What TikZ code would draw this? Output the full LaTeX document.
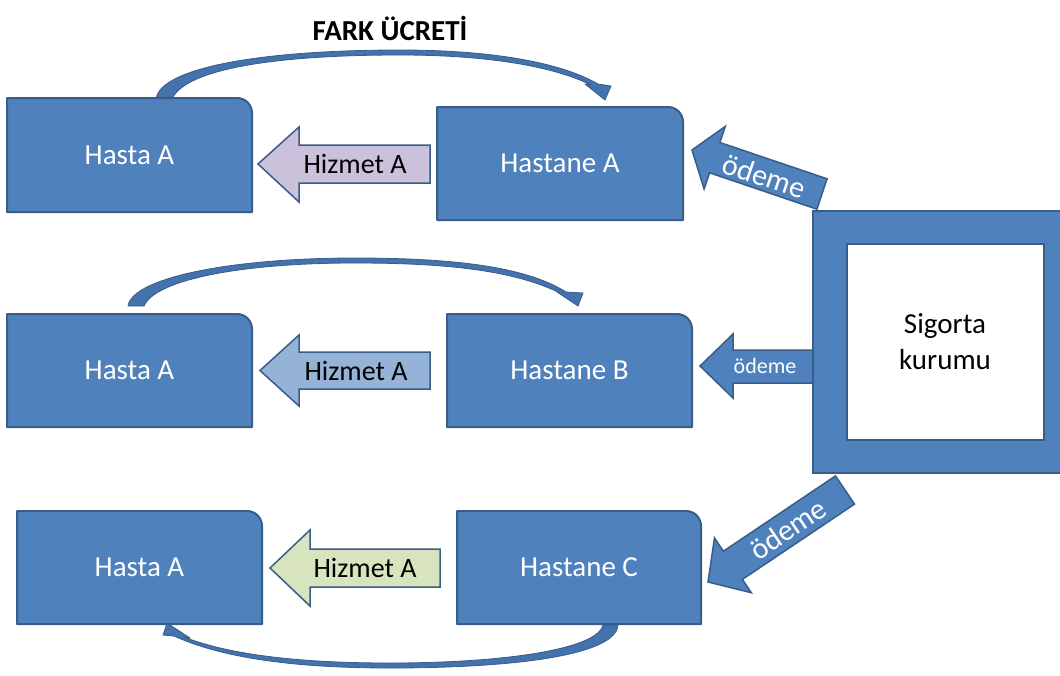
\documentclass[tikz,border=0pt]{standalone}
\usepackage{fontspec}
\setmainfont{Carlito}
\definecolor{boxblue}{HTML}{4F81BD}
\definecolor{boxedge}{HTML}{385D8A}
\definecolor{curveblue}{HTML}{4372AD}
\definecolor{lav}{HTML}{CCC1DA}
\definecolor{ltblue}{HTML}{95B3D7}
\definecolor{ltgreen}{HTML}{D7E4BD}
\tikzset{
  boxshape/.style={fill=boxblue,draw=boxedge,line width=2pt,line join=round},
  boxtext/.style={text=white,font=\fontsize{29}{34}\selectfont,inner sep=0pt},
  hizarrow/.style={draw=boxedge,line width=1.5pt,line join=miter},
  hiztext/.style={text=black,font=\fontsize{28}{33}\selectfont,inner sep=0pt},
  odarrow/.style={fill=boxblue,draw=boxedge,line width=1.5pt,line join=miter},
  odtext/.style={text=white,font=\fontsize{30}{35}\selectfont,inner sep=0pt},
  curvearrow/.style={fill=curveblue,draw=boxedge,line width=0.8pt,line join=round},
  titletext/.style={text=black,font=\bfseries\fontsize{29}{34}\selectfont,inner sep=0pt}
}
\newcommand\snipbox[6]{%
  \draw[boxshape] (#1,#4) -- (#1,#2) -- ({#3-15},#2) .. controls ({#3-6.7},#2) and (#3,{#2+6.7}) .. (#3,{#2+15}) -- (#3,#4) -- cycle;
  \node[boxtext] (#5) at ({(#1+#3)/2},{(#2+#4)/2}) {#6};
}
\begin{document}
\begin{tikzpicture}[x=1pt,y=-1pt]
\clip (0,0) rectangle (1060,675);
\fill[white] (0,0) rectangle (1060,675);

% title
\node[titletext] (title) at (390,28) {FARK ÜCRETİ};

% curved arrows
\draw[curvearrow] (156,99) .. controls (160,68) and (260,50) .. (400,50)
  .. controls (490,50) and (560,62) .. (598,84)
  -- (611,86) -- (605,100) -- (585,84) -- (591,85)
  .. controls (555,67) and (490,55) .. (400,55)
  .. controls (270,55) and (185,70) .. (172,99) -- cycle;

\draw[curvearrow] (128,306) .. controls (132,278) and (230,258) .. (355,258)
  .. controls (450,258) and (525,266) .. (566,292)
  -- (583,293) -- (578,306) -- (557,292) -- (560,293)
  .. controls (515,271) and (450,263) .. (355,263)
  .. controls (240,263) and (155,280) .. (144,306) -- cycle;

\draw[curvearrow] (603,625) .. controls (597,650) and (500,663) .. (390,663)
  .. controls (290,663) and (225,653) .. (184,637)
  -- (190,638) -- (167,623) -- (163,635) -- (174,636)
  .. controls (220,657) and (290,668) .. (390,668)
  .. controls (510,668) and (616,656) .. (618,625) -- cycle;

% boxes
\snipbox{7}{98}{252}{212}{hastaA1}{Hasta A}
\snipbox{437}{107}{683}{220}{hastaneA}{Hastane A}
\snipbox{7}{314}{252}{427}{hastaA2}{Hasta A}
\snipbox{447}{314}{692}{427}{hastaneB}{Hastane B}
\snipbox{17}{511}{262}{624}{hastaA3}{Hasta A}
\snipbox{457}{511}{701}{624}{hastaneC}{Hastane C}

% Hizmet arrows
\draw[hizarrow,fill=lav] (430,145) -- (299,145) -- (299,127) -- (258,164) -- (299,202) -- (299,183) -- (430,183) -- cycle;
\node[hiztext] (hiz1) at (355,164) {Hizmet A};
\draw[hizarrow,fill=ltblue] (430,352) -- (299,352) -- (299,335) -- (260,370.5) -- (299,406) -- (299,389) -- (430,389) -- cycle;
\node[hiztext] (hiz2) at (356,370.5) {Hizmet A};
\draw[hizarrow,fill=ltgreen] (440,549) -- (310,549) -- (310,530) -- (270,568) -- (310,606) -- (310,587) -- (440,587) -- cycle;
\node[hiztext] (hiz3) at (365,568) {Hizmet A};

% odeme arrows
\draw[odarrow] (827.1,178.8) -- (719.9,142.5) -- (725.3,126.4) -- (692,150) -- (704.1,189.0) -- (709.6,172.8) -- (816.9,209.2) -- cycle;
\node[odtext,rotate=-18.7] (od1) at (764,176) {ödeme};
\draw[odarrow] (813,350) -- (733,350) -- (733,334) -- (700,366) -- (733,398) -- (733,383) -- (813,383) -- cycle;
\node[odtext,font=\fontsize{22}{26}\selectfont] (od2) at (765,366) {ödeme};
\draw[odarrow] (854.5,504.1) -- (742.4,579.4) -- (751.3,592.7) -- (708,582) -- (714.5,537.9) -- (723.4,551.2) -- (835.5,475.9) -- cycle;
\node[odtext,rotate=33.9] (od3) at (788,529) {ödeme};

% Sigorta kurumu
\draw[boxshape,line join=miter] (813,211) rectangle (1064,473);
\draw[fill=white,draw=boxedge,line width=2pt] (847,244) rectangle (1044,440);
\node[text=black,font=\fontsize{29}{36}\selectfont,align=center,inner sep=0pt] (sigorta) at (945,342) {Sigorta\\kurumu};
\end{tikzpicture}
\end{document}
